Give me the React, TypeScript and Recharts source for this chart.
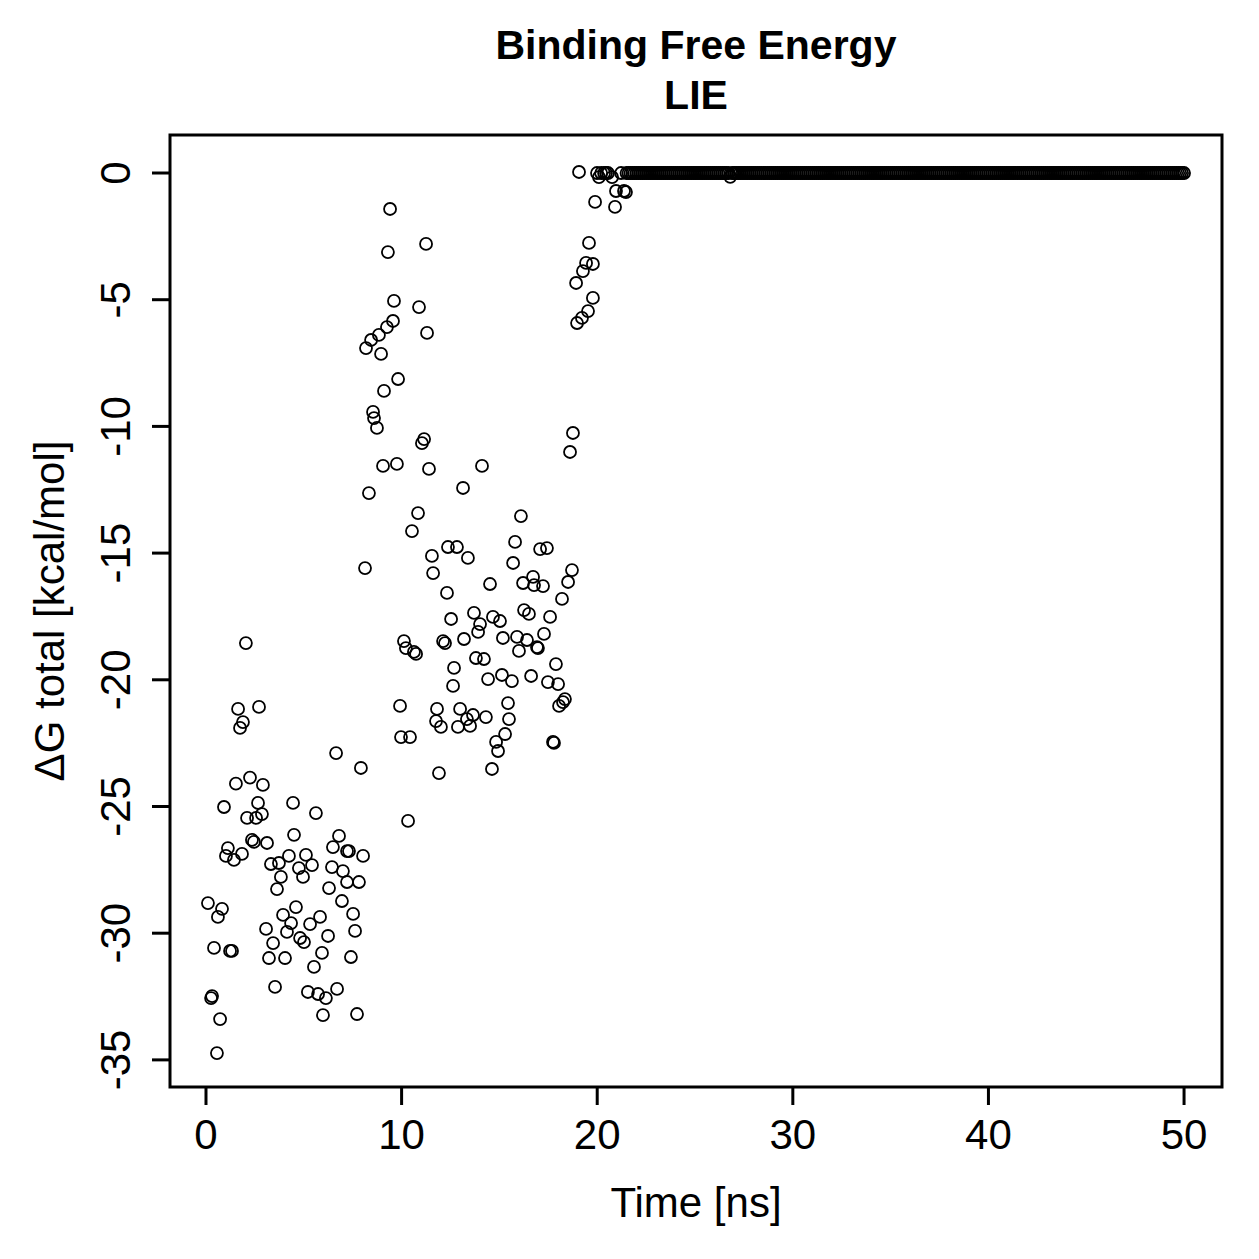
// App.tsx
// LIE binding free energy over time, drawn as an R-style open-circle scatter.
import { ScatterChart, Scatter, XAxis, YAxis, ReferenceArea } from "recharts";

const FONT = '"Liberation Sans", Arial, Helvetica, sans-serif';

const X_TICKS = [0, 10, 20, 30, 40, 50];
const Y_TICKS = [0, -5, -10, -15, -20, -25, -30, -35];
const X_DOMAIN: [number, number] = [-1.84, 51.94];
const Y_DOMAIN: [number, number] = [-36.07, 1.5];

// [time ns, dG kcal/mol]
const EARLY_POINTS: [number, number][] = [
  [0.10, -28.81], [0.82, -29.04], [0.61, -29.36], [0.41, -30.58], [1.23, -30.70],
  [1.33, -30.70], [0.31, -32.48], [0.26, -32.56], [0.72, -33.39], [0.56, -34.73],
  [0.92, -25.02], [1.12, -26.64], [1.02, -26.95], [1.43, -27.11], [1.84, -26.87],
  [1.53, -24.10], [1.64, -21.15], [1.89, -21.67], [1.74, -21.90], [2.04, -18.55],
  [2.25, -23.86], [2.91, -24.15], [2.71, -21.07], [2.66, -24.86], [2.10, -25.45],
  [2.56, -25.45], [2.86, -25.30], [2.35, -26.32], [2.45, -26.40], [3.12, -26.44],
  [3.32, -27.27], [3.73, -27.23], [4.24, -26.95], [4.50, -26.12], [4.45, -24.86],
  [5.11, -26.91], [5.42, -27.31], [4.75, -27.43], [4.96, -27.78], [3.83, -27.78],
  [3.63, -28.26], [5.62, -25.26], [6.49, -26.60], [6.80, -26.16], [7.21, -26.76],
  [7.31, -26.76], [8.03, -26.95], [6.44, -27.39], [7.00, -27.55], [7.21, -27.98],
  [7.82, -27.98], [6.29, -28.22], [6.95, -28.73], [7.52, -29.24], [7.62, -29.91],
  [7.41, -30.94], [4.60, -28.97], [3.94, -29.28], [4.35, -29.60], [4.14, -29.95],
  [5.32, -29.64], [5.83, -29.36], [6.24, -30.11], [4.81, -30.19], [5.01, -30.35],
  [3.07, -29.83], [3.43, -30.39], [3.22, -30.98], [4.04, -30.98], [5.52, -31.33],
  [5.93, -30.78], [3.53, -32.12], [5.21, -32.32], [5.73, -32.40], [6.13, -32.56],
  [6.70, -32.20], [5.98, -33.23], [7.72, -33.19], [6.65, -22.89], [7.92, -23.48],
];

const UPPER_POINTS: [number, number][] = [
  [9.41, -1.42], [9.30, -3.12], [11.25, -2.80], [9.61, -5.05], [10.89, -5.29],
  [9.56, -5.84], [9.25, -6.08], [8.84, -6.39], [8.44, -6.59], [8.18, -6.91],
  [8.95, -7.14], [11.30, -6.31], [9.82, -8.13], [9.10, -8.60], [8.54, -9.43],
  [8.59, -9.67], [8.74, -10.06], [11.15, -10.50], [11.04, -10.66], [9.05, -11.56],
  [9.76, -11.48], [11.40, -11.68],
];

const MIDDLE_POINTS: [number, number][] = [
  [8.13, -15.59], [8.33, -12.63], [10.84, -13.42], [10.53, -14.13], [13.14, -12.43],
  [14.11, -11.56], [16.10, -13.54], [15.80, -14.56], [17.08, -14.84], [17.43, -14.80],
  [12.37, -14.76], [12.83, -14.76], [11.55, -15.11], [13.39, -15.19], [15.70, -15.39],
  [11.61, -15.79], [18.71, -15.67], [18.51, -16.14], [16.21, -16.18], [16.72, -15.94],
  [16.77, -16.26], [17.23, -16.30], [14.52, -16.22], [12.32, -16.57], [18.20, -16.81],
  [13.70, -17.36], [14.67, -17.52], [15.03, -17.68], [16.26, -17.25], [16.51, -17.40],
  [17.59, -17.52], [12.53, -17.60], [14.01, -17.80], [13.91, -18.11], [17.28, -18.19],
  [10.12, -18.47], [10.22, -18.75], [10.63, -18.90], [10.74, -18.98], [12.12, -18.47],
  [12.22, -18.55], [13.19, -18.39], [15.18, -18.35], [15.90, -18.31], [16.41, -18.43],
  [16.00, -18.86], [16.92, -18.71], [16.97, -18.75], [13.80, -19.14], [14.21, -19.18],
  [17.89, -19.38], [12.68, -19.53], [14.42, -19.97], [15.13, -19.81], [15.64, -20.05],
  [16.62, -19.85], [17.48, -20.09], [18.00, -20.17], [12.63, -20.24], [18.35, -20.76],
  [18.25, -20.88], [18.05, -21.03], [9.92, -21.03], [15.44, -20.92], [11.81, -21.15],
  [12.99, -21.15], [13.65, -21.39], [13.34, -21.55], [13.50, -21.82], [12.88, -21.86],
  [14.31, -21.47], [11.76, -21.63], [12.01, -21.86], [15.49, -21.55], [9.97, -22.26],
  [10.43, -22.26], [15.29, -22.14], [14.83, -22.45], [14.93, -22.81], [17.74, -22.45],
  [17.79, -22.49], [11.91, -23.68], [14.62, -23.52], [10.33, -25.57], [18.76, -10.26],
  [18.61, -11.01],
];

const LATE_POINTS: [number, number][] = [
  [19.07, 0.04], [19.99, 0.0], [20.09, -0.16], [20.2, 0.0], [20.35, 0.0],
  [20.45, 0.0], [20.55, 0.0], [20.76, -0.16], [21.22, 0.0], [21.5, 0.0],
  [20.96, -0.71], [21.37, -0.71], [21.47, -0.75], [19.89, -1.14], [20.91, -1.34],
  [19.58, -2.76], [19.43, -3.55], [19.78, -3.59], [19.27, -3.87], [18.92, -4.34],
  [19.78, -4.93], [19.53, -5.45], [19.22, -5.72], [18.97, -5.92],
];

// flat tail: one frame every 0.1 ns from 21.6 to 50 ns
const TAIL_START = 21.6;
const TAIL_STEP = 0.1;
const TAIL_DG = [
  0, 0, 0, 0, 0, 0, 0, 0, 0, 0, 0, 0, 0, 0, 0,
  0, 0, 0, 0, 0, 0, 0, 0, 0, 0, 0, 0, 0, 0, 0,
  0, 0, 0, 0, 0, 0, 0, 0, 0, 0, 0, 0, 0, 0, 0,
  0, 0, 0, 0, 0, 0, 0, -0.15, 0, 0, 0, 0, 0, 0, 0,
  0, 0, 0, 0, 0, 0, 0, 0, 0, 0, 0, 0, 0, 0, 0,
  0, 0, 0, 0, 0, 0, 0, 0, 0, 0, 0, 0, 0, 0, 0,
  0, 0, 0, 0, 0, 0, 0, 0, 0, 0, 0, 0, 0, 0, 0,
  0, 0, 0, 0, 0, 0, 0, 0, 0, 0, 0, 0, 0, 0, 0,
  0, 0, 0, 0, 0, 0, 0, 0, 0, 0, 0, 0, 0, 0, 0,
  0, 0, 0, 0, 0, 0, 0, 0, 0, 0, 0, 0, 0, 0, 0,
  0, 0, 0, 0, 0, 0, 0, 0, 0, 0, 0, 0, 0, 0, 0,
  0, 0, 0, 0, 0, 0, 0, 0, 0, 0, 0, 0, 0, 0, 0,
  0, 0, 0, 0, 0, 0, 0, 0, 0, 0, 0, 0, 0, 0, 0,
  0, 0, 0, 0, 0, 0, 0, 0, 0, 0, 0, 0, 0, 0, 0,
  0, 0, 0, 0, 0, 0, 0, 0, 0, 0, 0, 0, 0, 0, 0,
  0, 0, 0, 0, 0, 0, 0, 0, 0, 0, 0, 0, 0, 0, 0,
  0, 0, 0, 0, 0, 0, 0, 0, 0, 0, 0, 0, 0, 0, 0,
  0, 0, 0, 0, 0, 0, 0, 0, 0, 0, 0, 0, 0, 0, 0,
  0, 0, 0, 0, 0, 0, 0, 0, 0, 0, 0, 0, 0, 0, 0,
];

const points = [
  ...EARLY_POINTS,
  ...UPPER_POINTS,
  ...MIDDLE_POINTS,
  ...LATE_POINTS,
  ...TAIL_DG.map((dg, i): [number, number] => [+(TAIL_START + i * TAIL_STEP).toFixed(1), dg]),
].map(([t, dg]) => ({ t, dg }));

const OpenCircle = (props: any) => (
  <circle cx={props.cx} cy={props.cy} r={6} fill="none" stroke="#000" strokeWidth={1.8} />
);

const XTick = (props: any) => (
  <text x={props.x} y={props.y + 44} textAnchor="middle" fontSize={42} fontFamily={FONT} fill="#000">
    {props.payload.value}
  </text>
);

const YTick = (props: any) => {
  const x = props.x - 22;
  return (
    <text
      x={x}
      y={props.y}
      transform={`rotate(-90, ${x}, ${props.y})`}
      textAnchor="middle"
      fontSize={42}
      fontFamily={FONT}
      fill="#000"
    >
      {props.payload.value}
    </text>
  );
};

export default function App() {
  return (
    <div style={{ position: "absolute", left: 0, top: 0, width: 1259, height: 1259, background: "#fff" }}>
      <ScatterChart width={1259} height={1259} margin={{ top: 135, right: 37, bottom: 72, left: 70 }}>
        <XAxis
          type="number"
          dataKey="t"
          domain={X_DOMAIN}
          ticks={X_TICKS}
          interval={0}
          allowDataOverflow
          height={100}
          axisLine={false}
          tickLine={{ stroke: "#000", strokeWidth: 3 }}
          tickSize={18}
          tickMargin={0}
          tick={<XTick />}
        />
        <YAxis
          type="number"
          dataKey="dg"
          domain={Y_DOMAIN}
          ticks={Y_TICKS}
          interval={0}
          allowDataOverflow
          width={100}
          axisLine={false}
          tickLine={{ stroke: "#000", strokeWidth: 3 }}
          tickSize={18}
          tickMargin={0}
          tick={<YTick />}
        />
        <ReferenceArea
          x1={X_DOMAIN[0]}
          x2={X_DOMAIN[1]}
          y1={Y_DOMAIN[0]}
          y2={Y_DOMAIN[1]}
          fill="none"
          stroke="#000"
          strokeWidth={3}
          ifOverflow="visible"
        />
        <Scatter data={points} shape={OpenCircle} isAnimationActive={false} />
      </ScatterChart>

      {/* titles */}
      <svg width={1259} height={1259} style={{ position: "absolute", left: 0, top: 0, pointerEvents: "none" }}>
        <text x={696} y={59} textAnchor="middle" fontSize={41} fontWeight="bold" fontFamily={FONT}>
          Binding Free Energy
        </text>
        <text x={696} y={109} textAnchor="middle" fontSize={41} fontWeight="bold" fontFamily={FONT}>
          LIE
        </text>
        <text x={696} y={1217} textAnchor="middle" fontSize={42} fontFamily={FONT}>
          Time [ns]
        </text>
        <text x={64} y={611} transform="rotate(-90, 64, 611)" textAnchor="middle" fontSize={42} fontFamily={FONT}>
          ΔG total [kcal/mol]
        </text>
      </svg>
    </div>
  );
}
